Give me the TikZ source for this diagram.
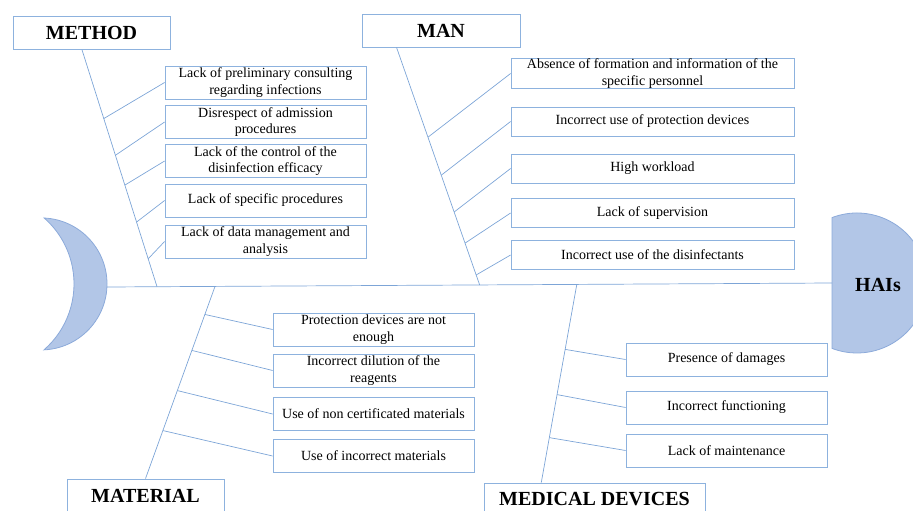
\documentclass[tikz,border=0pt]{standalone}
\usepackage{fontspec}
\setmainfont{Liberation Serif}
\usetikzlibrary{positioning, calc}
\definecolor{boxblue}{RGB}{141,178,222}
\definecolor{boneblue}{RGB}{125,165,215}
\definecolor{fishfill}{RGB}{178,198,231}
\definecolor{fishline}{RGB}{140,170,218}

\begin{document}
\begin{tikzpicture}[x=1pt,y=-1pt,bone/.style={draw=boneblue, line width=0.7pt},cause/.style={draw=boxblue, line width=0.8pt, align=center, inner sep=0pt, minimum width=201pt, minimum height=33pt, font=\fontsize{14}{16.5}\selectfont},head/.style={draw=boxblue, line width=0.8pt, inner sep=0pt, minimum height=33pt, font=\fontsize{20}{24}\selectfont\bfseries},fish/.style={fill=fishfill, draw=fishline, line width=0.8pt}]
\useasboundingbox (0,0) rectangle (913,511);
\filldraw[fish] (44,218) arc[start angle=87.4, end angle=-87.4, radius=66pt] arc[start angle=-48.9, end angle=48.9, radius=87.6pt] -- cycle;
\filldraw[fish] (832,217.6) arc[start angle=110.9, end angle=-110.9, radius=70pt] -- cycle;
\node[font=\fontsize{20}{24}\selectfont\bfseries] (hais) at (878,285) {HAIs};
\coordinate (tail) at (107,287); \coordinate (head) at (832,283);
\draw[bone] (tail) -- (head);
\node[head, minimum width=157pt] (method) at (91.5,33) {METHOD}; \node[head, minimum width=158pt] (man) at (441,30.5) {MAN};
\node[head, minimum width=157pt] (material) at (145.5,495.5) {MATERIAL}; \node[head, minimum width=221pt] (medical) at (594.5,499.5) {MEDICAL DEVICES};
\foreach \i/\y/\txt in {1/82.5/{Lack of preliminary consulting\\regarding infections}, 2/122/{Disrespect of admission\\procedures}, 3/161/{Lack of the control of the\\disinfection efficacy}, 4/200.5/{Lack of specific procedures}, 5/241.5/{Lack of data management and\\analysis}}
	\node[cause] (me\i) at (265.5,\y) {\txt};
\foreach \i/\y/\txt in {1/73.5/{Absence of formation and information of the\\specific personnel}, 2/121.5/{Incorrect use of protection devices}, 3/168.5/{High workload}, 4/213/{Lack of supervision}, 5/255/{Incorrect use of the disinfectants}}
	\node[cause, minimum width=283pt, minimum height=29pt] (mn\i) at (652.5,\y) {\txt};
\foreach \i/\y/\txt in {1/329.5/{Protection devices are not\\enough}, 2/370.5/{Incorrect dilution of the\\reagents}, 3/414/{Use of non certificated materials}, 4/456/{Use of incorrect materials}}
	\node[cause] (ma\i) at (373.5,\y) {\txt};
\foreach \i/\y/\txt in {1/359.5/{Presence of damages}, 2/407.5/{Incorrect functioning}, 3/450.5/{Lack of maintenance}}
	\node[cause] (md\i) at (726.5,\y) {\txt};
\draw[bone] ($(method.south west)!0.44!(method.south east)$) coordinate (mt) -- ($(tail)!0.069!(head)$) coordinate (mb);
\draw[bone] ($(man.south west)!0.22!(man.south east)$) coordinate (nt) -- ($(tail)!0.514!(head)$) coordinate (nb);
\draw[bone] ($(tail)!0.149!(head)$) coordinate (at) -- (material.north) coordinate (ab);
\draw[bone] ($(tail)!0.648!(head)$) coordinate (dt) -- ($(medical.north west)!0.26!(medical.north east)$) coordinate (db);
\foreach \i/\t in {1/0.29, 2/0.445, 3/0.571, 4/0.727, 5/0.882} \draw[bone] ($(mt)!\t!(mb)$) -- (me\i.west);
\foreach \i/\t in {1/0.378, 2/0.538, 3/0.693, 4/0.824, 5/0.958} \draw[bone] ($(nt)!\t!(nb)$) -- (mn\i.west);
\foreach \i/\t in {1/0.146, 2/0.333, 3/0.542, 4/0.75} \draw[bone] ($(at)!\t!(ab)$) -- (ma\i.west);
\foreach \i/\t in {1/0.328, 2/0.556, 3/0.773} \draw[bone] ($(dt)!\t!(db)$) -- (md\i.west);
\end{tikzpicture}
\end{document}
